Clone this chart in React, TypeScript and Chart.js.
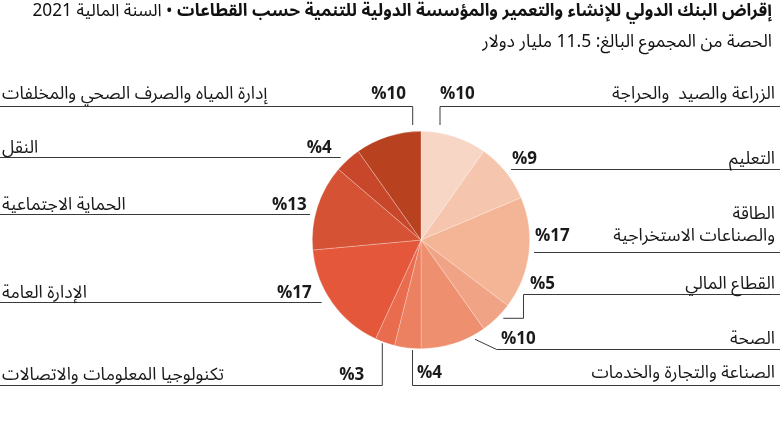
import React, { useEffect, useRef } from "react";
import { Chart, registerables } from "chart.js";

Chart.register(...registerables);

const TITLE_BOLD = "إقراض البنك الدولي للإنشاء والتعمير والمؤسسة الدولية للتنمية حسب القطاعات";
const TITLE_REST = "• السنة المالية 2021";
const SUBTITLE = "الحصة من المجموع البالغ: 11.5 مليار دولار";

const sectors: string[] = [
  "الزراعة والصيد  والحراجة",
  "التعليم",
  "الطاقة\nوالصناعات الاستخراجية",
  "القطاع المالي",
  "الصحة",
  "الصناعة والتجارة والخدمات",
  "تكنولوجيا المعلومات والاتصالات",
  "الإدارة العامة",
  "الحماية الاجتماعية",
  "النقل",
  "إدارة المياه والصرف الصحي والمخلفات",
];

const shares: number[] = [10, 9, 17, 5, 10, 4, 3, 17, 13, 4, 10];

const sliceColors: string[] = [
  "#f8d6c6",
  "#f6c5ae",
  "#f4b597",
  "#f1a385",
  "#ee8f6f",
  "#eb8160",
  "#e86c4d",
  "#e4573a",
  "#d55234",
  "#c8472b",
  "#b8411f",
];

// label layout, offsets in px relative to pie centre
type LabelLayout = {
  side: "r" | "l";
  dy: number;
  inner: number;
  pct: number;
  raise: number;
  conn: [number, number][];
};

const labelLayout: LabelLayout[] = [
  { side: "r", dy: -134, inner: 19, pct: 19, raise: 7.5, conn: [[19, -115]] },
  { side: "r", dy: -71, inner: 90, pct: 91, raise: 6, conn: [] },
  { side: "r", dy: 12, inner: 113, pct: 114, raise: 11.5, conn: [] },
  { side: "r", dy: 53.5, inner: 102.5, pct: 109, raise: 6, conn: [[102.5, 78.3], [82.3, 78.3]] },
  { side: "r", dy: 109.3, inner: 75.7, pct: 80, raise: 6, conn: [[54, 99.3]] },
  { side: "r", dy: 144.5, inner: -8.5, pct: -4, raise: 7.5, conn: [[-8.5, 110]] },
  { side: "l", dy: 144.5, inner: -38.7, pct: -56.7, raise: 6, conn: [[-38.7, 103.3]] },
  { side: "l", dy: 62.3, inner: -99.3, pct: -109.3, raise: 5, conn: [] },
  { side: "l", dy: -25.7, inner: -111, pct: -114.3, raise: 5, conn: [] },
  { side: "l", dy: -83.3, inner: -80.3, pct: -89.3, raise: 5, conn: [] },
  { side: "l", dy: -134, inner: -8.3, pct: -15, raise: 7.7, conn: [[-8.3, -115]] },
];

const FONT = '"Noto Sans Arabic", "Noto Sans", "DejaVu Sans", sans-serif';

const labelsPlugin = {
  id: "sectorLabels",
  afterDraw(chart: any) {
    const meta = chart.getDatasetMeta(0);
    const arc = meta.data[0] as any;
    if (!arc) return;
    const cx = arc.x;
    const cy = arc.y;
    const ctx: CanvasRenderingContext2D = chart.ctx;
    const W = chart.width;
    ctx.save();
    ctx.strokeStyle = "#3a3a3a";
    ctx.lineWidth = 1;
    labelLayout.forEach((L, i) => {
      const ly = Math.round(cy + L.dy) + 0.5;
      const ix = cx + L.inner;
      ctx.beginPath();
      if (L.side === "r") {
        ctx.moveTo(W, ly);
        ctx.lineTo(ix, ly);
      } else {
        ctx.moveTo(0, ly);
        ctx.lineTo(ix, ly);
      }
      L.conn.forEach(([px, py]) => ctx.lineTo(cx + px, cy + py));
      ctx.stroke();

      // sector name
      ctx.fillStyle = "#1a1a1a";
      ctx.font = `17.5px ${FONT}`;
      (ctx as any).direction = "rtl";
      ctx.textBaseline = "alphabetic";
      const lines = sectors[i].split("\n");
      const base = ly - L.raise;
      lines.forEach((t, k) => {
        const y = base - (lines.length - 1 - k) * 22;
        if (L.side === "r") {
          ctx.textAlign = "right";
          ctx.fillText(t, W - 5, y);
        } else {
          ctx.textAlign = "left";
          ctx.fillText(t, 2, y);
        }
      });

      // percentage
      (ctx as any).direction = "ltr";
      ctx.font = `bold 17px ${FONT}`;
      const pctText = "%" + shares[i];
      if (L.side === "r") {
        ctx.textAlign = "left";
        ctx.fillText(pctText, cx + L.pct, base);
      } else {
        ctx.textAlign = "right";
        ctx.fillText(pctText, cx + L.pct, base);
      }
    });
    ctx.restore();
  },
};

export default function App() {
  const ref = useRef<HTMLCanvasElement | null>(null);
  useEffect(() => {
    if (!ref.current) return;
    const chart = new Chart(ref.current, {
      type: "pie",
      data: {
        labels: sectors,
        datasets: [
          {
            data: shares,
            backgroundColor: sliceColors,
            borderColor: "rgba(255,255,255,0.45)",
            borderWidth: 0.6,
          },
        ],
      },
      options: {
        responsive: false,
        animation: false,
        layout: { padding: { top: 131, bottom: 90, left: 312, right: 250 } },
        plugins: {
          legend: { display: false },
          tooltip: { enabled: false },
          title: { display: false },
        },
      },
      plugins: [labelsPlugin],
    });
    return () => chart.destroy();
  }, []);

  return (
    <div style={{ position: "fixed", left: 0, top: 0, width: 780, height: 439, background: "#fff", overflow: "hidden" }}>
      <canvas ref={ref} width={780} height={439} style={{ position: "absolute", left: 0, top: 0, width: 780, height: 439 }} />
      <div
        dir="rtl"
        style={{
          position: "absolute",
          right: 8,
          top: 0,
          fontFamily: FONT,
          fontSize: 17.3,
          lineHeight: "22px",
          color: "#111",
          whiteSpace: "nowrap",
        }}
      >
        <span style={{ fontWeight: "bold" }}>{TITLE_BOLD}</span> <span>{TITLE_REST}</span>
      </div>
      <div
        dir="rtl"
        style={{
          position: "absolute",
          right: 8,
          top: 31,
          fontFamily: FONT,
          fontSize: 17.5,
          lineHeight: "22px",
          color: "#111",
          whiteSpace: "nowrap",
        }}
      >
        {SUBTITLE}
      </div>
    </div>
  );
}
